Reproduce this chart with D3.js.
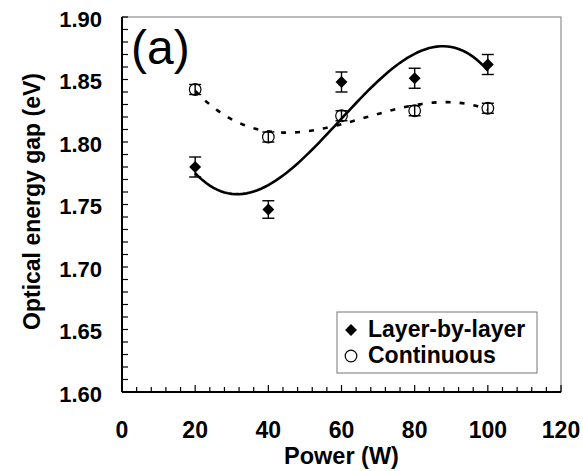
<!DOCTYPE html>
<html>
<head>
<meta charset="utf-8">
<script src="https://cdn.jsdelivr.net/npm/d3@7"></script>
<style>
  body { margin: 0; background: #fff; }
  svg { display: block; font-family: "Liberation Sans", Arial, sans-serif; }
</style>
</head>
<body>
<div id="chart"></div>
<script>
// data
const power = [20, 40, 60, 80, 100];
const layerGap = [1.780, 1.746, 1.848, 1.851, 1.862];
const layerErr = [0.008, 0.007, 0.008, 0.008, 0.008];
const contGap = [1.842, 1.804, 1.821, 1.825, 1.827];
const contErr = [0.004, 0.004, 0.004, 0.004, 0.004];
const xTicks = [0, 20, 40, 60, 80, 100, 120];
const yTicks = [1.60, 1.65, 1.70, 1.75, 1.80, 1.85, 1.90];

const width = 583, height = 471;
const margin = { top: 17, right: 22, bottom: 79, left: 122 };
const w = width - margin.left - margin.right;
const h = height - margin.top - margin.bottom;

const svg = d3.select('#chart').append('svg')
  .attr('width', width).attr('height', height);

const x = d3.scaleLinear().domain([0, 120]).range([margin.left, margin.left + w]);
const y = d3.scaleLinear().domain([1.60, 1.90]).range([margin.top + h, margin.top]);

// cubic least-squares trendline
function polyFit(xs, ys, deg) {
  const n = deg + 1;
  const A = Array.from({ length: n }, () => new Array(n + 1).fill(0));
  xs.forEach((xv, k) => {
    for (let i = 0; i < n; i++) {
      for (let j = 0; j < n; j++) A[i][j] += Math.pow(xv, i + j);
      A[i][n] += ys[k] * Math.pow(xv, i);
    }
  });
  for (let i = 0; i < n; i++) {
    let p = i;
    for (let r = i + 1; r < n; r++) if (Math.abs(A[r][i]) > Math.abs(A[p][i])) p = r;
    [A[i], A[p]] = [A[p], A[i]];
    for (let r = 0; r < n; r++) {
      if (r === i) continue;
      const f = A[r][i] / A[i][i];
      for (let c = i; c <= n; c++) A[r][c] -= f * A[i][c];
    }
  }
  const coef = A.map((row, i) => row[n] / row[i]);
  return (xv) => coef.reduce((s, c, i) => s + c * Math.pow(xv, i), 0);
}

const fitLayer = polyFit(power, layerGap, 3);
const fitCont = polyFit(power, contGap, 3);
const xs = d3.range(20, 100.01, 1);
const line = d3.line().x(d => x(d[0])).y(d => y(d[1]));

// frame: top/right thin
svg.append('rect')
  .attr('x', margin.left).attr('y', margin.top)
  .attr('width', w).attr('height', h)
  .attr('fill', 'none').attr('stroke', '#777').attr('stroke-width', 1);

// trend lines
svg.append('path')
  .datum(xs.map(v => [v, fitLayer(v)]))
  .attr('fill', 'none').attr('stroke', '#000').attr('stroke-width', 2.6)
  .attr('d', line);

svg.append('path')
  .datum(xs.map(v => [v, fitCont(v)]))
  .attr('fill', 'none').attr('stroke', '#000').attr('stroke-width', 2.6)
  .attr('stroke-dasharray', '5,9')
  .attr('d', line);

// error bars
function errorBars(vals, errs) {
  const g = svg.append('g').attr('stroke', '#000').attr('stroke-width', 1.4);
  power.forEach((p, i) => {
    const cx = x(p);
    g.append('line').attr('x1', cx).attr('x2', cx)
      .attr('y1', y(vals[i] - errs[i])).attr('y2', y(vals[i] + errs[i]));
    [vals[i] - errs[i], vals[i] + errs[i]].forEach(v => {
      g.append('line').attr('x1', cx - 6).attr('x2', cx + 6)
        .attr('y1', y(v)).attr('y2', y(v));
    });
  });
}
errorBars(layerGap, layerErr);
errorBars(contGap, contErr);

const diamond = d3.symbol().type(d3.symbolDiamond2).size(90);

svg.append('g').selectAll('path')
  .data(power)
  .join('path')
  .attr('transform', (d, i) => `translate(${x(d)},${y(layerGap[i])})`)
  .attr('d', diamond)
  .attr('fill', '#000');

svg.append('g').selectAll('circle')
  .data(power)
  .join('circle')
  .attr('cx', d => x(d))
  .attr('cy', (d, i) => y(contGap[i]))
  .attr('r', 5.8)
  .attr('fill', 'none').attr('stroke', '#000').attr('stroke-width', 1.2);

// axes
const yAxis = svg.append('g');
yAxis.append('line')
  .attr('x1', margin.left).attr('x2', margin.left)
  .attr('y1', margin.top).attr('y2', margin.top + h)
  .attr('stroke', '#000').attr('stroke-width', 2);
yAxis.selectAll('.ytick')
  .data(d3.range(1.60, 1.9001, 0.01))
  .join('line')
  .attr('x1', margin.left).attr('x2', margin.left + 6)
  .attr('y1', d => y(d)).attr('y2', d => y(d))
  .attr('stroke', '#000').attr('stroke-width', 1.2);
yAxis.selectAll('text')
  .data(yTicks)
  .join('text')
  .attr('x', 102).attr('y', d => y(d) + 2)
  .attr('dy', '0.36em')
  .attr('text-anchor', 'end')
  .attr('font-size', 22).attr('font-weight', 'bold')
  .text(d => d.toFixed(2));

const xAxis = svg.append('g');
xAxis.append('line')
  .attr('x1', margin.left).attr('x2', margin.left + w)
  .attr('y1', margin.top + h).attr('y2', margin.top + h)
  .attr('stroke', '#000').attr('stroke-width', 2);
xAxis.selectAll('.xtick')
  .data(d3.range(4, 120.01, 4))
  .join('line')
  .attr('x1', d => x(d)).attr('x2', d => x(d))
  .attr('y1', margin.top + h).attr('y2', d => margin.top + h - (d % 20 === 0 ? 7 : 5))
  .attr('stroke', '#000').attr('stroke-width', 1.2);
xAxis.selectAll('text')
  .data(xTicks)
  .join('text')
  .attr('x', d => x(d)).attr('y', 438)
  .attr('text-anchor', 'middle')
  .attr('font-size', 23).attr('font-weight', 'bold')
  .text(d => d);

svg.append('text')
  .attr('x', x(60)).attr('y', 464)
  .attr('text-anchor', 'middle')
  .attr('font-size', 23.5).attr('font-weight', 'bold')
  .text('Power (W)');

svg.append('text')
  .attr('transform', `translate(40,${margin.top + h / 2 - 3}) rotate(-90)`)
  .attr('text-anchor', 'middle')
  .attr('font-size', 23).attr('font-weight', 'bold')
  .text('Optical energy gap (eV)');

svg.append('text')
  .attr('x', 131).attr('y', 64)
  .attr('font-size', 48)
  .text('(a)');

// legend
const lg = svg.append('g');
lg.append('rect')
  .attr('x', 337).attr('y', 312).attr('width', 200).attr('height', 61)
  .attr('fill', '#fff').attr('stroke', '#777').attr('stroke-width', 1);
lg.append('path')
  .attr('transform', 'translate(351,330)')
  .attr('d', diamond).attr('fill', '#000');
lg.append('circle')
  .attr('cx', 351).attr('cy', 356).attr('r', 5.8)
  .attr('fill', 'none').attr('stroke', '#000').attr('stroke-width', 1.2);
lg.selectAll('text')
  .data(['Layer-by-layer', 'Continuous'])
  .join('text')
  .attr('x', 368).attr('y', (d, i) => 337 + i * 26)
  .attr('font-size', 23).attr('font-weight', 'bold')
  .text(d => d);
</script>
</body>
</html>
